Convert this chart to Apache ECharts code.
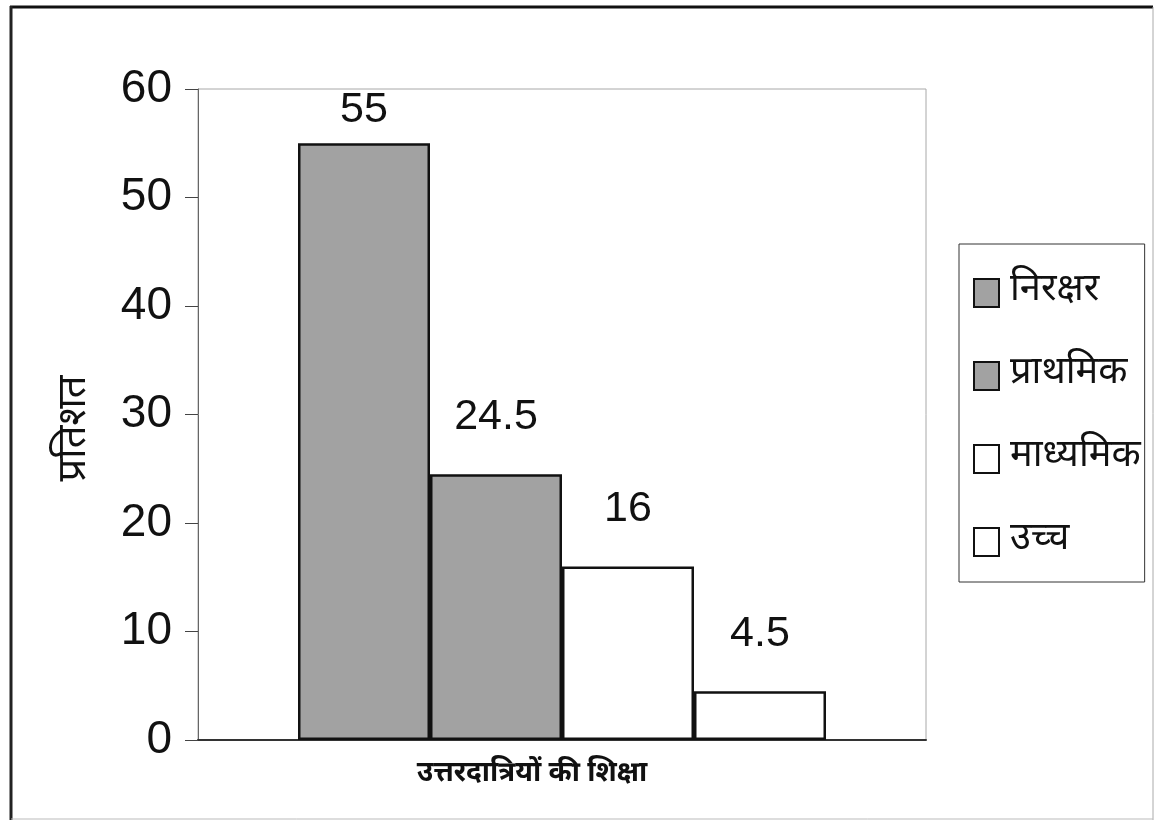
<!DOCTYPE html>
<html>
<head>
<meta charset="utf-8">
<script src="https://cdn.jsdelivr.net/npm/echarts@6/dist/echarts.min.js"></script>
<style>
html,body{margin:0;padding:0;background:#fff;}
#chart{width:1156px;height:824px;}
</style>
</head>
<body>
<div id="chart"></div>
<script>
// ---- data ----
const categories = ['उत्तरदात्रियों की शिक्षा'];
const seriesNames = ['निरक्षर', 'प्राथमिक', 'माध्यमिक', 'उच्च'];
const seriesValues = [55, 24.5, 16, 4.5];
const yAxisTitle = 'प्रतिशत';
const yMin = 0, yMax = 60, yStep = 10;

// ---- styles ----
const fills = ['#a2a2a2', '#a2a2a2', '#ffffff', '#ffffff'];
const labelDistances = [12, 36, 36, 36];
const numFont = '"Liberation Sans", Arial, sans-serif';
const devFont = '"Noto Sans Devanagari", "Lohit Devanagari", "Mangal", "Noto Sans", sans-serif';

const chart = echarts.init(document.getElementById('chart'), null, {renderer: 'canvas'});

const series = seriesNames.map((name, i) => ({
  type: 'bar',
  name: name,
  data: [seriesValues[i]],
  barWidth: 132,
  barGap: '0%',
  itemStyle: { color: fills[i], borderColor: '#111', borderWidth: 2.5 },
  label: {
    show: true,
    position: 'top',
    distance: labelDistances[i],
    color: '#111',
    fontFamily: numFont,
    fontSize: 43
  },
  emphasis: { disabled: true }
}));

chart.setOption({
  animation: false,
  backgroundColor: '#fff',
  grid: {
    left: 198, top: 89, right: 1156 - 926, bottom: 824 - 740,
    show: true, borderColor: '#a8a8a8', borderWidth: 1, backgroundColor: 'transparent'
  },
  xAxis: {
    type: 'category',
    data: categories,
    axisLine: { lineStyle: { color: '#333', width: 2 } },
    axisTick: { show: false },
    axisLabel: {
      show: true, margin: 22, fontSize: 28, fontWeight: 'bold', color: '#111',
      fontFamily: devFont, padding: [0, 60, 0, 0]
    },
    splitLine: { show: false }
  },
  yAxis: {
    type: 'value',
    min: yMin, max: yMax, interval: yStep,
    name: yAxisTitle,
    nameLocation: 'middle',
    nameGap: 100,
    nameRotate: 90,
    nameTextStyle: { fontSize: 40, color: '#111', fontFamily: devFont, padding: [0, 28, 0, 0] },
    axisLine: { show: true, lineStyle: { color: '#666', width: 1 } },
    axisTick: { show: true, length: 13, lineStyle: { color: '#444', width: 1 } },
    axisLabel: { margin: 26, fontSize: 46, color: '#111', fontFamily: numFont },
    splitLine: { show: false }
  },
  legend: {
    orient: 'vertical',
    left: 959, top: 244,
    padding: [28, 4, 19, 14],
    itemGap: 41,
    itemWidth: 25, itemHeight: 28,
    borderColor: '#333', borderWidth: 1,
    selectedMode: false,
    icon: 'rect',
    itemStyle: { borderColor: '#111', borderWidth: 2 },
    textStyle: { fontSize: 38, lineHeight: 42, color: '#111', fontFamily: devFont, padding: [0, 0, 0, 6] },
    data: seriesNames
  },
  graphic: [
    { type: 'line', shape: { x1: 10, y1: 7, x2: 1153, y2: 7 }, style: { stroke: '#111', lineWidth: 3 }, silent: true },
    { type: 'line', shape: { x1: 11, y1: 6, x2: 11, y2: 820 }, style: { stroke: '#222', lineWidth: 3 }, silent: true },
    { type: 'line', shape: { x1: 1153, y1: 7, x2: 1153, y2: 820 }, style: { stroke: '#aaa', lineWidth: 1 }, silent: true },
    { type: 'line', shape: { x1: 11, y1: 819, x2: 1153, y2: 819 }, style: { stroke: '#bbb', lineWidth: 1 }, silent: true }
  ],
  series: series
});
</script>
</body>
</html>
